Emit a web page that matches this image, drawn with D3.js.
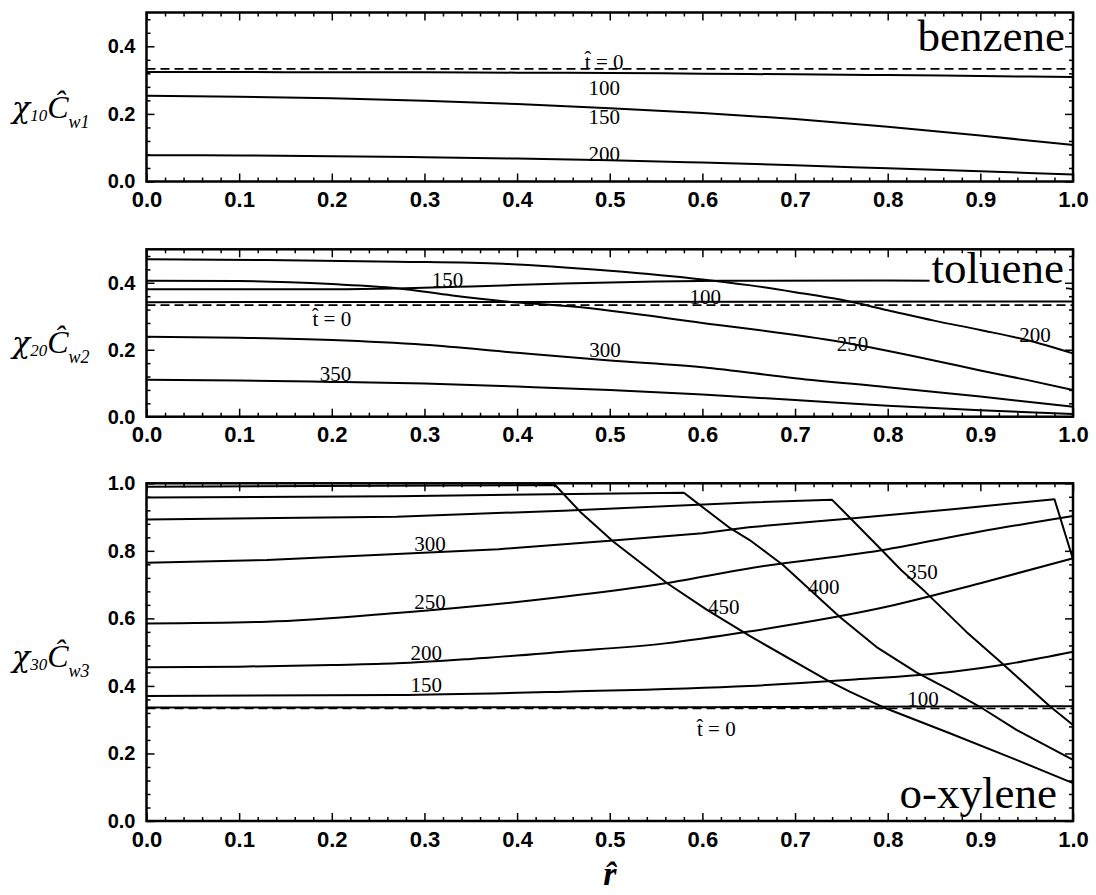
<!DOCTYPE html>
<html><head><meta charset="utf-8">
<script src="https://cdn.jsdelivr.net/npm/d3@7"></script>
<style>body{margin:0;background:#fff}</style>
</head><body>
<svg id="c" width="1096" height="895"></svg>
<script>
// ---------------- DATA ----------------
const xMajorTicks = [0.0,0.1,0.2,0.3,0.4,0.5,0.6,0.7,0.8,0.9,1.0];
const yTicksSmall = [0.0,0.2,0.4];
const yTicksLarge = [0.0,0.2,0.4,0.6,0.8,1.0];
const speciesNames = ["benzene","toluene","o-xylene"];

const rGrid = [0,0.1,0.2,0.3,0.4,0.5,0.6,0.7,0.8,0.9,1.0];
const flatR = [0,1];
const initialV = [0.3333,0.3333];

// benzene
const benzene100 = [0.324,0.324,0.323,0.323,0.322,0.321,0.319,0.317,0.315,0.312,0.309];
const benzene150 = [0.254,0.251,0.246,0.239,0.229,0.217,0.203,0.185,0.162,0.136,0.108];
const benzene200 = [0.078,0.077,0.075,0.072,0.068,0.063,0.056,0.048,0.039,0.030,0.021];

// toluene
const toluene100R = [0,1];
const toluene100 = [0.342,0.344];
const toluene150R = [0,0.2,0.27,0.35,0.45,0.55,0.62,0.8,0.9,0.95,1.0];
const toluene150 = [0.381,0.381,0.383,0.389,0.398,0.404,0.406,0.407,0.404,0.397,0.381];
const toluene200R = [0,0.13,0.27,0.385,0.5,0.6,0.65,0.7,0.75,0.8,0.85,0.9,0.95,1.0];
const toluene200 = [0.470,0.468,0.463,0.457,0.436,0.410,0.393,0.372,0.349,0.318,0.287,0.259,0.229,0.189];
const toluene250R = [0,0.1,0.2,0.27,0.33,0.385,0.46,0.6,0.75,0.85,0.9,0.95,1.0];
const toluene250 = [0.406,0.405,0.396,0.384,0.362,0.345,0.329,0.280,0.223,0.168,0.138,0.110,0.080];
const toluene300 = [0.239,0.236,0.229,0.215,0.191,0.168,0.148,0.115,0.088,0.060,0.030];
const toluene350 = [0.110,0.108,0.104,0.099,0.090,0.080,0.066,0.050,0.033,0.019,0.008];

// o-xylene
const xylene100R = [0,0.6,0.75,1.0];
const xylene100 = [0.336,0.337,0.338,0.340];
const xylene150R = [0,0.27,0.45,0.65,0.76,0.87,0.93,1.0];
const xylene150 = [0.370,0.373,0.383,0.400,0.418,0.442,0.465,0.501];
const xylene200R = [0,0.1,0.2,0.27,0.35,0.45,0.56,0.65,0.8,0.9,1.0];
const xylene200 = [0.455,0.457,0.462,0.467,0.480,0.501,0.526,0.561,0.635,0.704,0.778];
const xylene250R = [0,0.13,0.27,0.45,0.56,0.65,0.8,0.9,1.0];
const xylene250 = [0.585,0.590,0.616,0.664,0.704,0.748,0.805,0.857,0.903];
const xylene300R = [0,0.13,0.27,0.38,0.5,0.6,0.65,0.76,0.87,0.98,1.0];
const xylene300 = [0.765,0.773,0.791,0.805,0.830,0.852,0.870,0.896,0.923,0.953,0.775];
const xylene350R = [0,0.27,0.45,0.65,0.74,0.76,0.79,0.815,0.84,0.885,0.92,0.975,1.0];
const xylene350 = [0.893,0.901,0.919,0.943,0.951,0.896,0.812,0.742,0.680,0.560,0.475,0.340,0.284];
const xylene400R = [0,0.27,0.58,0.597,0.63,0.651,0.687,0.748,0.788,0.831,0.867,0.899,0.939,1.0];
const xylene400 = [0.958,0.962,0.972,0.936,0.867,0.832,0.758,0.605,0.515,0.440,0.388,0.339,0.270,0.181];
const xylene450R = [0,0.441,0.468,0.504,0.562,0.605,0.651,0.734,0.759,0.795,0.867,0.939,1.0];
const xylene450 = [0.990,0.995,0.916,0.827,0.704,0.625,0.548,0.418,0.383,0.337,0.260,0.181,0.112];

// curve labels [text, r, value]
const benzeneLabels = [["t\u0302 = 0",0.494,0.356],["100",0.494,0.277],["150",0.494,0.193],["200",0.494,0.082]];
const tolueneLabels = [["t\u0302 = 0",0.200,0.294],["350",0.204,0.129],["150",0.325,0.408],["100",0.603,0.359],["200",0.959,0.244],["250",0.762,0.219],["300",0.495,0.199]];
const xyleneLabels = [["300",0.306,0.822],["250",0.306,0.650],["200",0.302,0.498],["150",0.302,0.403],["450",0.623,0.635],["t\u0302 = 0",0.615,0.274],["400",0.731,0.694],["350",0.837,0.738],["100",0.838,0.363]];

// ---------------- LAYOUT ----------------
const svg = d3.select("#c");
const xLeft = 146.5, xRight = 1073;
const x = d3.scaleLinear().domain([0,1]).range([xLeft, xRight]);
const serif = "'Liberation Serif','Times New Roman',serif";
const sans = "'Liberation Sans',Arial,Helvetica,sans-serif";
const xMinor = d3.range(0, 1.0001, 0.02).filter(v => Math.abs(v*10 - Math.round(v*10)) > 1e-6);

const panels = [
  {name: speciesNames[0], top: 12.5, bottom: 181.5, yMax: 0.5, yTicks: yTicksSmall, sub1: "10", sub2: "w1", titleY: 118,
   nameX: 1065, nameY: 50.7, nameBg: true,
   labels: benzeneLabels,
   series: [
     {r: flatR, v: initialV, dashed: true},
     {r: rGrid, v: benzene100},
     {r: rGrid, v: benzene150},
     {r: rGrid, v: benzene200}
   ]},
  {name: speciesNames[1], top: 249.3, bottom: 416.7, yMax: 0.5, yTicks: yTicksSmall, sub1: "20", sub2: "w2", titleY: 353,
   nameX: 1064, nameY: 282.7, nameBg: true,
   labels: tolueneLabels,
   series: [
     {r: flatR, v: initialV, dashed: true},
     {r: toluene100R, v: toluene100},
     {r: toluene150R, v: toluene150},
     {r: toluene200R, v: toluene200},
     {r: toluene250R, v: toluene250},
     {r: rGrid, v: toluene300},
     {r: rGrid, v: toluene350}
   ]},
  {name: speciesNames[2], top: 483.3, bottom: 821, yMax: 1.0, yTicks: yTicksLarge, sub1: "30", sub2: "w3", titleY: 667,
   nameX: 1057, nameY: 808, nameBg: false,
   labels: xyleneLabels,
   series: [
     {r: flatR, v: initialV, dashed: true},
     {r: xylene100R, v: xylene100},
     {r: xylene150R, v: xylene150},
     {r: xylene200R, v: xylene200},
     {r: xylene250R, v: xylene250},
     {r: xylene300R, v: xylene300, sharp: true},
     {r: xylene350R, v: xylene350, sharp: true},
     {r: xylene400R, v: xylene400, sharp: true},
     {r: xylene450R, v: xylene450, sharp: true}
   ]}
];

panels.forEach(p => {
  const y = d3.scaleLinear().domain([0, p.yMax]).range([p.bottom, p.top]);
  const g = svg.append("g");
  const yMinor = d3.range(0, p.yMax + 1e-6, 0.04).filter(v => Math.abs(v*5 - Math.round(v*5)) > 1e-6);

  // curves
  const smooth = d3.line().curve(d3.curveMonotoneX).x(d => x(d[0])).y(d => y(d[1]));
  const straight = d3.line().x(d => x(d[0])).y(d => y(d[1]));
  p.series.forEach(s => {
    const pts = s.r.map((rv, i) => [rv, s.v[i]]);
    g.append("path")
      .attr("d", (s.sharp ? straight : smooth)(pts))
      .attr("fill", "none").attr("stroke", "#000")
      .attr("stroke-width", s.dashed ? 1.6 : 2)
      .attr("stroke-linejoin", "round")
      .attr("stroke-dasharray", s.dashed ? "9,5" : null);
  });

  // curve labels
  p.labels.forEach(l => {
    g.append("text")
      .attr("x", x(l[1])).attr("y", y(l[2]))
      .attr("dy", "0.35em")
      .attr("text-anchor", "middle")
      .attr("font-family", serif).attr("font-size", 21)
      .text(l[0]);
  });

  // species name (white background where it covers curves)
  const nt = g.append("text")
    .attr("x", p.nameX).attr("y", p.nameY)
    .attr("text-anchor", "end")
    .attr("font-family", serif).attr("font-size", 45)
    .text(p.name);
  if (p.nameBg) {
    const bb = nt.node().getBBox();
    g.insert("rect", function(){ return nt.node(); })
      .attr("x", bb.x - 2).attr("y", p.nameY - 32).attr("width", bb.width + 4).attr("height", 42)
      .attr("fill", "#fff");
  }

  // axes
  const styleAxis = sel => { sel.select(".domain").remove(); sel.selectAll("line").attr("stroke", "#000").attr("stroke-width", 1.5); };
  g.append("g").attr("transform", `translate(0,${p.bottom})`)
    .call(d3.axisBottom(x).tickValues(xMajorTicks).tickSize(-8).tickSizeOuter(0).tickPadding(10).tickFormat(d3.format(".1f")))
    .call(styleAxis)
    .call(a => a.selectAll("text").attr("font-family", sans).attr("font-weight", "bold").attr("font-size", 22).attr("fill", "#000"));
  g.append("g").attr("transform", `translate(0,${p.bottom})`)
    .call(d3.axisBottom(x).tickValues(xMinor).tickSize(-4).tickSizeOuter(0).tickFormat(""))
    .call(styleAxis);
  g.append("g").attr("transform", `translate(0,${p.top})`)
    .call(d3.axisTop(x).tickValues(xMajorTicks).tickSize(-8).tickSizeOuter(0).tickFormat(""))
    .call(styleAxis);
  g.append("g").attr("transform", `translate(0,${p.top})`)
    .call(d3.axisTop(x).tickValues(xMinor).tickSize(-4).tickSizeOuter(0).tickFormat(""))
    .call(styleAxis);
  g.append("g").attr("transform", `translate(${xLeft},0)`)
    .call(d3.axisLeft(y).tickValues(p.yTicks).tickSize(-8).tickSizeOuter(0).tickPadding(11).tickFormat(d3.format(".1f")))
    .call(styleAxis)
    .call(a => a.selectAll("text").attr("font-family", sans).attr("font-weight", "bold").attr("font-size", 20).attr("fill", "#000"));
  g.append("g").attr("transform", `translate(${xLeft},0)`)
    .call(d3.axisLeft(y).tickValues(yMinor).tickSize(-4).tickSizeOuter(0).tickFormat(""))
    .call(styleAxis);
  g.append("g").attr("transform", `translate(${xRight},0)`)
    .call(d3.axisRight(y).tickValues(p.yTicks).tickSize(-8).tickSizeOuter(0).tickFormat(""))
    .call(styleAxis);
  g.append("g").attr("transform", `translate(${xRight},0)`)
    .call(d3.axisRight(y).tickValues(yMinor).tickSize(-4).tickSizeOuter(0).tickFormat(""))
    .call(styleAxis);

  // frame
  g.append("rect")
    .attr("x", xLeft).attr("y", p.top).attr("width", xRight - xLeft).attr("height", p.bottom - p.top)
    .attr("fill", "none").attr("stroke", "#000").attr("stroke-width", 2.5);

  // y title
  const t = g.append("text").attr("x", 12).attr("y", p.titleY).attr("font-family", serif).attr("fill", "#000");
  t.append("tspan").attr("font-size", 30).attr("font-family", "'DejaVu Serif',serif").attr("font-style", "italic").text("\u03C7");
  t.append("tspan").attr("font-size", 17).attr("font-style", "italic").attr("dy", 3).text(p.sub1);
  t.append("tspan").attr("font-size", 32).attr("font-style", "italic").attr("dy", -3).text("\u0108");
  t.append("tspan").attr("font-size", 18).attr("font-style", "italic").attr("dy", 10).text(p.sub2);
});

// x title
svg.append("text").attr("x", x(0.5)).attr("y", 885).attr("text-anchor", "middle")
  .attr("font-family", serif).attr("font-style", "italic").attr("font-weight", "bold").attr("font-size", 34)
  .text("r\u0302");
</script>
</body></html>
